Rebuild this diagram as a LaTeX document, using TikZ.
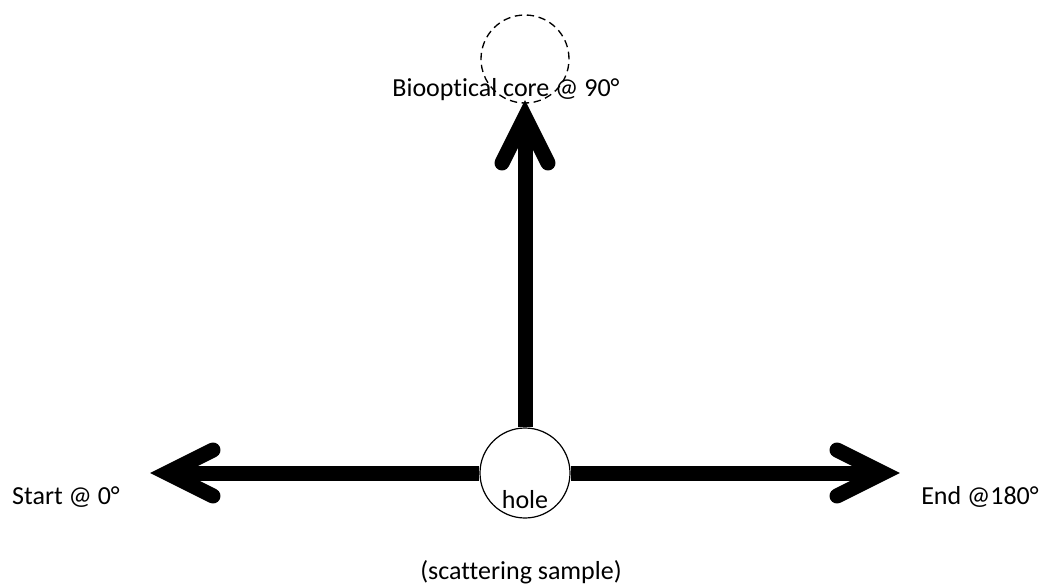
\documentclass[tikz,border=0pt]{standalone}
\usepackage{fontspec}
\setmainfont{Carlito}[Ligatures=NoCommon]
\begin{document}
\begin{tikzpicture}[x=0.75pt,y=-0.75pt,
  shaft/.style={line width=11.25pt},
  chevron/.style={line width=11.25pt,line cap=round,line join=miter},
  lbl/.style={font=\fontsize{19.5pt}{23pt}\selectfont,inner sep=0pt},
  holecircle/.style={circle,draw,line width=0.9pt,fill=white,minimum size=67.5pt,inner sep=0pt},
  corecircle/.style={circle,draw,dash pattern=on 5.5pt off 3.5pt,line width=1pt,minimum size=66pt,inner sep=0pt}]
\useasboundingbox (0,0) rectangle (1054,585);
% tips
\coordinate (lt) at (167,473);
\coordinate (rt) at (883,473);
\coordinate (ut) at (525,117);
\node[holecircle] (hole) at (525,473) {};
\draw[shaft] (hole.west) -- (lt);
\draw[shaft] (hole.east) -- (rt);
\draw[shaft] (hole.north) -- (ut);
\draw[chevron] (213,450) -- (lt) -- (213,496);
\draw[chevron] (837,450) -- (rt) -- (837,496);
\draw[chevron] (502,163) -- (ut) -- (548,163);
\node[lbl] (holetxt) at (525,500) {hole};
\node[lbl] (core) at (506,90) {Biooptical core @ 90°};
\node[corecircle] (coreball) at (525,59) {};
\node[lbl] (start) at (66,497) {Start @ 0°};
\node[lbl] (end) at (980,497) {End @180°};
\node[lbl] (sample) at (521,572) {(scattering sample)};
\end{tikzpicture}
\end{document}
